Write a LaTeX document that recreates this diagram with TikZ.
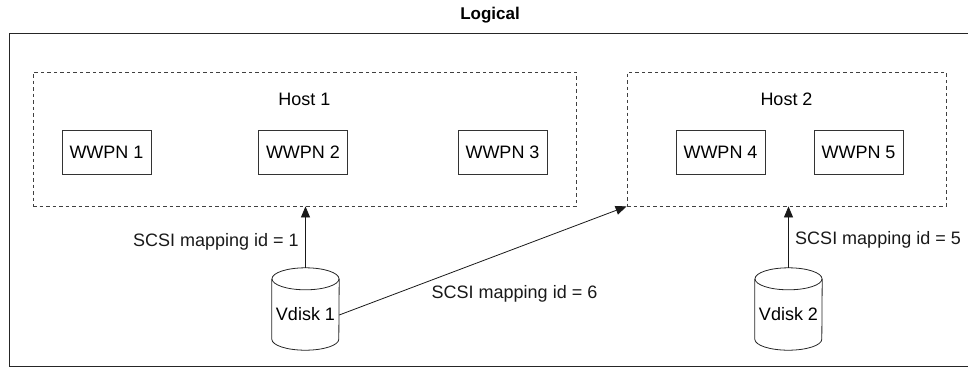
\documentclass[tikz,border=0pt]{standalone}
\usepackage{fontspec}
\setmainfont{Liberation Sans}
\usetikzlibrary{arrows.meta}

\tikzset{
    txt/.style={font=\fontsize{18}{21}\selectfont, inner sep=3.33pt},
    hostbox/.style={draw=black!75, dashed, dash pattern=on 3.5pt off 3pt, line width=0.8pt, minimum height=134pt},
    wwpnbox/.style={draw=black!80, line width=0.8pt, minimum width=89pt, minimum height=44pt, txt},
    disk/.style={minimum width=67pt, minimum height=82pt, inner sep=0pt},
    map/.style={-{Triangle[length=11pt,width=9pt]}, line width=0.8pt, black!90}
}

\begin{document}
\begin{tikzpicture}[x=1pt, y=-1pt]
        \useasboundingbox (0,0) rectangle (968,367);

        % outer frame
        \draw[black!85, line width=1pt] (9,33) rectangle (980,366.5);
        \node[txt, font=\fontsize{17}{20}\selectfont\bfseries] (title) at (490,15) {Logical};

        % hosts
        \node[hostbox, minimum width=543pt] (host1) at (304.5,139) {};
        \node[hostbox, minimum width=319pt] (host2) at (786.5,139) {};
        \node[txt, below=18pt] (h1label) at (host1.north) {Host 1};
        \node[txt, below=18pt] (h2label) at (host2.north) {Host 2};

        \node[wwpnbox] (wwpn1) at (106.5,152.5) {WWPN 1};
        \node[wwpnbox] (wwpn2) at (303,152.5) {WWPN 2};
        \node[wwpnbox] (wwpn3) at (502.5,152.5) {WWPN 3};
        \node[wwpnbox] (wwpn4) at (720.5,152.5) {WWPN 4};
        \node[wwpnbox] (wwpn5) at (858.5,152.5) {WWPN 5};

        % vdisks
        \node[disk] (vdisk1) at (305.5,309) {};
        \node[disk] (vdisk2) at (788.5,309) {};
        \foreach \d/\t in {vdisk1/Vdisk 1, vdisk2/Vdisk 2} {
            \draw[black!85, line width=0.8pt] ([yshift=-11pt]\d.north) ellipse [x radius=33.5pt, y radius=11pt];
            \draw[black!85, line width=0.8pt] ([yshift=-11pt]\d.north west) -- ([yshift=11pt]\d.south west)
                arc[start angle=180, end angle=360, x radius=33.5pt, y radius=11pt] -- ([yshift=-11pt]\d.north east);
            \node[txt] at ([yshift=-5pt]\d.center) {\t};
        }

        % mappings
        \draw[map] (vdisk1.north) -- (vdisk1.north |- host1.south)
            node[txt, pos=0.43, left=3pt] (map1) {SCSI mapping id = 1};
        \draw[map] (vdisk2.north) -- (vdisk2.north |- host2.south)
            node[txt, pos=0.46, right=3pt] (map5) {SCSI mapping id = 5};
        \draw[map] ([yshift=-6pt]vdisk1.east) -- (host2.south west)
            node[txt, pos=0.61, below=33pt] (map6) {SCSI mapping id = 6};
    \end{tikzpicture}
\end{document}
